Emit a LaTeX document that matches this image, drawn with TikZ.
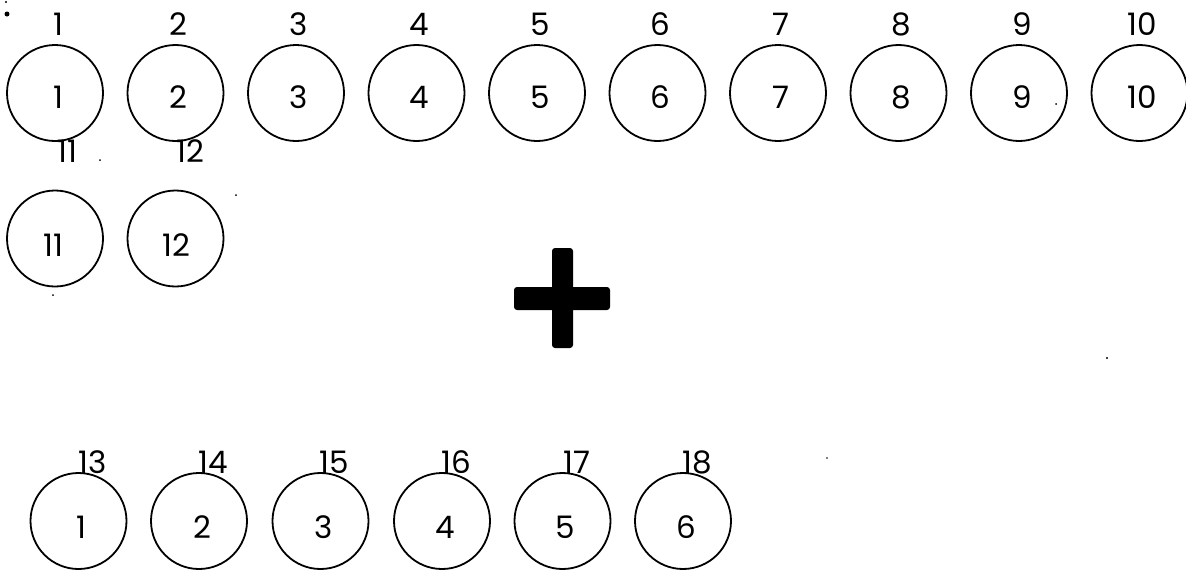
\documentclass[tikz,border=0pt]{standalone}
\usepackage{fontspec}
\setmainfont{Poppins}
\begin{document}
\begin{tikzpicture}[x=1pt,y=-1pt,
  ball/.style={circle,draw,line width=1.8pt,minimum size=96pt,inner sep=0pt},
  num/.style={font=\fontsize{31}{32}\selectfont,inner sep=0pt},
  speck/.style={fill=black}]
\useasboundingbox (0,0) rectangle (1186,571);
% top row
\foreach \i in {1,...,10}{
  \pgfmathsetmacro{\cx}{55+120.5*(\i-1)}
  \node[ball] (t\i) at (\cx,93) {};
  \node[num] (ti\i) at (\cx+3,97) {\i};
  \node[num] (tl\i) at (\cx+3,24) {\i};
}
% second row
\node[ball] (t11) at (55,238.5) {};
\node[num] (ti11) at (53,245) {11};
\node[num] (tl11) at (67,151) {11};
\node[ball] (t12) at (175.5,238.5) {};
\node[num] (ti12) at (176,245) {12};
\node[num] (tl12) at (190,151) {12};
% plus sign
\fill[rounded corners=3pt] (552,248) rectangle (573,348);
\fill[rounded corners=3pt] (514,287) rectangle (610,310);
% bottom row
\foreach \i/\cx/\lab in {1/78.5/13,2/199/14,3/320.5/15,4/442/16,5/562.5/17,6/683/18}{
  \node[ball] (b\i) at (\cx,521) {};
  \node[num] (bi\i) at (\cx+3,527) {\i};
  \node[num] (bl\i) at (\cx+14,462) {\lab};
}
% specks
\fill[speck] (7,14) circle (2.5pt);
\fill[speck] (6,2) circle (1.2pt);
\fill[speck] (100,160) circle (1pt);
\fill[speck] (236,195) circle (1pt);
\fill[speck] (53,295) circle (1pt);
\fill[speck] (1056,104) circle (1pt);
\fill[speck] (1107,358) circle (1.2pt);
\fill[speck] (827,458) circle (0.8pt);
\end{tikzpicture}
\end{document}
